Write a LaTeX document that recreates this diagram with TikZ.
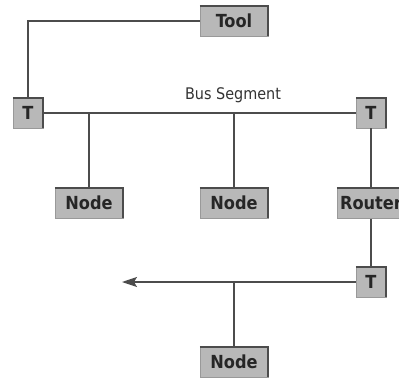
\documentclass[tikz,border=0pt]{standalone}
\usepackage{fontspec}
\setsansfont{DejaVu Sans Condensed}[BoldFont={DejaVu Sans Condensed Bold}]
\usetikzlibrary{arrows.meta,positioning}

\begin{document}
\begin{tikzpicture}[
    x=1pt, y=-1pt,
    font=\sffamily,
    >={Stealth[length=15pt,width=10pt,inset=3pt]},
    unit/.style={
      fill=black!28,
      draw=black!40,
      line width=0.5pt,
      minimum height=30pt,
      inner sep=2pt,
      text=black!85,
      font=\sffamily\bfseries\fontsize{18}{18}\selectfont
    },
    term/.style={unit, minimum width=30pt},
    host/.style={unit, minimum width=68pt},
    edge/.style={draw=black!70, line width=1.6pt},
    wire/.style={draw=black!70, line width=1.3pt}
  ]
    \useasboundingbox (0,0) rectangle (399,380);

    \node[host] (tool) at (234,21) {Tool};
    \node[term] (tl) at (28,113) {T};
    \node[term] (tr) at (371,113) {T};
    \node[host] (n1) at (89,203) {Node};
    \node[host] (n2) at (234,203) {Node};
    \node[host, below=60pt of tr] (router) {Router};
    \node[term, below=48pt of router] (t2) {T};
    \node[host] (n3) at (234,362) {Node};
    \coordinate (busend) at (122,282);

    \node[text=black!80, font=\sffamily\fontsize{16}{16}\selectfont] (buslabel)
      at (233,95) {Bus Segment};

    % darker top and right edges
    \foreach \b in {tool,tl,tr,n1,n2,router,t2,n3}
      \draw[edge] (\b.north west) -- (\b.north east) -- (\b.south east);

    \draw[wire] (tool.west) -| (tl.north);
    \draw[wire] (tl.east) -- (tr.west);
    \draw[wire] (n1.north) -- (n1.north |- tl.east);
    \draw[wire] (n2.north) -- (n2.north |- tl.east);
    \draw[wire] (tr) -- (router);
    \draw[wire] (router) -- (t2);
    \draw[wire, ->] (t2.west) -- (busend);
    \draw[wire] (n3.north) -- (n3.north |- t2.west);
  \end{tikzpicture}
\end{document}
